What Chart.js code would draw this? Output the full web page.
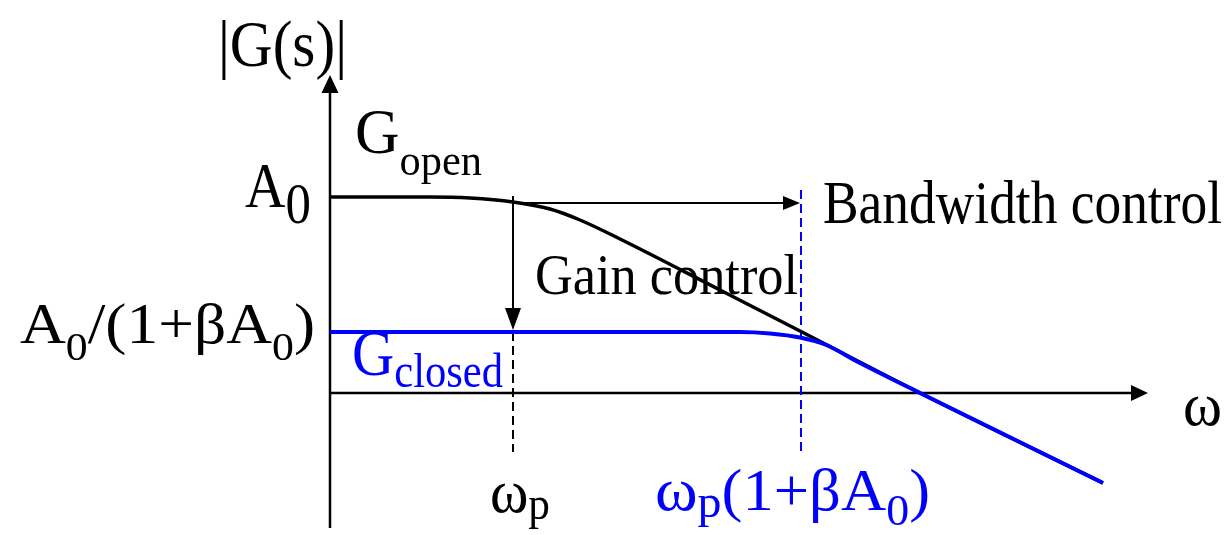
<!DOCTYPE html>
<html>
<head>
<meta charset="utf-8">
<script src="https://cdn.jsdelivr.net/npm/chart.js@4/dist/chart.umd.min.js"></script>
<style>
  html, body { margin: 0; padding: 0; background: #fff; }
  #wrap { width: 1230px; height: 535px; }
</style>
</head>
<body>
<div id="wrap"><canvas id="bode" width="1230" height="535"></canvas></div>
<script>
// sketch units: x = log frequency, y = log magnitude (axes cross at 0,0)
const openX = [0, 1.0, 1.4, 1.83, 2.2, 2.5, 2.9, 3.9, 4.7, 5.9, 7.73];
const openY = [1.96, 1.96, 1.95, 1.91, 1.84, 1.73, 1.54, 1.03, 0.62, 0.0, -0.90];
const closedX = [0, 4.1, 4.4, 4.7, 4.95, 5.3, 5.9, 7.73];
const closedY = [0.61, 0.61, 0.595, 0.555, 0.485, 0.30, 0.0, -0.90];
const wp = 1.83;       // open-loop corner
const wpClosed = 4.71; // closed-loop corner

const BLUE = "#0000ff";
const FONT = '"Liberation Serif", "Times New Roman", serif';

// text labels: position (left, baseline) in chart units, width in chart units
const labels = [
  { x: -1.12, y: 3.27, w: 1.29, color: "#000", runs: [["|G(s)|", 66, 0]] },
  { x: 0.25, y: 2.40, w: 1.27, color: "#000", runs: [["G", 64, 0], ["open", 44, 22]] },
  { x: -0.85, y: 1.86, w: 0.66, color: "#000", runs: [["A", 64, 0], ["0", 58, 16]] },
  { x: -3.10, y: 0.50, w: 2.95, color: "#000",
    runs: [["A", 58, 0], ["0", 40, 17], ["/(1+βA", 58, 0], ["0", 40, 17], [")", 58, 0]] },
  { x: 0.22, y: 0.18, w: 1.51, color: BLUE, runs: [["G", 66, 0], ["closed", 48, 12]] },
  { x: 2.05, y: 0.99, w: 2.63, color: "#000", runs: [["Gain control", 56, 0]] },
  { x: 4.93, y: 1.70, w: 3.99, color: "#000", runs: [["Bandwidth control", 62, 0]] },
  { x: 8.53, y: -0.32, w: 0.39, color: "#000", runs: [["ω", 62, 0]] },
  { x: 1.60, y: -1.19, w: 0.60, color: "#000", runs: [["ω", 62, 0], ["p", 46, 7]] },
  { x: 3.25, y: -1.17, w: 2.75, color: BLUE,
    runs: [["ω", 62, 0], ["p", 46, 7], ["(1+βA", 60, 0], ["0", 44, 15], [")", 60, 0]] },
];

function arrow(ctx, x1, y1, x2, y2, len, half, color, width) {
  const a = Math.atan2(y2 - y1, x2 - x1);
  const bx = x2 - len * Math.cos(a), by = y2 - len * Math.sin(a);
  ctx.strokeStyle = color;
  ctx.fillStyle = color;
  ctx.lineWidth = width;
  ctx.setLineDash([]);
  ctx.beginPath();
  ctx.moveTo(x1, y1);
  ctx.lineTo(bx, by);
  ctx.stroke();
  ctx.beginPath();
  ctx.moveTo(x2, y2);
  ctx.lineTo(bx + half * Math.sin(a), by - half * Math.cos(a));
  ctx.lineTo(bx - half * Math.sin(a), by + half * Math.cos(a));
  ctx.closePath();
  ctx.fill();
}

function dashed(ctx, x1, y1, x2, y2, color) {
  ctx.strokeStyle = color;
  ctx.lineWidth = 2;
  ctx.setLineDash([9, 5]);
  ctx.beginPath();
  ctx.moveTo(x1, y1);
  ctx.lineTo(x2, y2);
  ctx.stroke();
  ctx.setLineDash([]);
}

const sketch = {
  id: "sketch",
  beforeDatasetsDraw(chart) {
    const { ctx, scales: { x, y } } = chart;
    const px = (v) => x.getPixelForValue(v);
    const py = (v) => y.getPixelForValue(v);
    ctx.save();
    // axes
    arrow(ctx, px(0), py(-1.35), px(0), py(3.18), 18, 8.5, "#000", 2.5);
    arrow(ctx, px(0), py(0), px(8.18), py(0), 17, 8, "#000", 2.5);
    // gain control arrow
    arrow(ctx, px(wp), py(1.97), px(wp), py(0.63), 22, 8, "#000", 2);
    dashed(ctx, px(wp), py(0.61), px(wp), py(-0.59), "#000");
    // bandwidth control arrow
    arrow(ctx, px(wp), py(1.90), px(wpClosed - 0.01), py(1.90), 17, 7, "#000", 2);
    dashed(ctx, px(wpClosed), py(2.03), px(wpClosed), py(-0.59), BLUE);
    ctx.restore();
  },
  afterDatasetsDraw(chart) {
    const { ctx, scales: { x, y } } = chart;
    ctx.save();
    ctx.textBaseline = "alphabetic";
    ctx.textAlign = "left";
    labels.forEach((lb) => {
      let total = 0;
      lb.runs.forEach((r) => {
        ctx.font = r[1] + "px " + FONT;
        total += ctx.measureText(r[0]).width;
      });
      const left = x.getPixelForValue(lb.x);
      const target = x.getPixelForValue(lb.x + lb.w) - left;
      const sx = target / total;
      ctx.save();
      ctx.translate(left, y.getPixelForValue(lb.y));
      ctx.scale(sx, 1);
      ctx.fillStyle = lb.color;
      let cx = 0;
      lb.runs.forEach((r) => {
        ctx.font = r[1] + "px " + FONT;
        ctx.fillText(r[0], cx, r[2]);
        cx += ctx.measureText(r[0]).width;
      });
      ctx.restore();
    });
    ctx.restore();
  },
};

new Chart(document.getElementById("bode").getContext("2d"), {
  type: "line",
  data: {
    datasets: [
      {
        label: "G closed",
        data: closedX.map((v, i) => ({ x: v, y: closedY[i] })),
        borderColor: BLUE,
        borderWidth: 4,
        pointRadius: 0,
        cubicInterpolationMode: "monotone",
        fill: false,
      },
      {
        label: "G open",
        data: openX.map((v, i) => ({ x: v, y: openY[i] })),
        borderColor: "#000",
        borderWidth: 3.5,
        pointRadius: 0,
        cubicInterpolationMode: "monotone",
        fill: false,
      },
    ],
  },
  options: {
    responsive: false,
    animation: false,
    layout: { padding: 0 },
    scales: {
      x: { type: "linear", min: -3.3, max: 9.0, display: false },
      y: { type: "linear", min: -1.42, max: 3.93, display: false },
    },
    plugins: {
      legend: { display: false },
      tooltip: { enabled: false },
    },
  },
  plugins: [sketch],
});
</script>
</body>
</html>
